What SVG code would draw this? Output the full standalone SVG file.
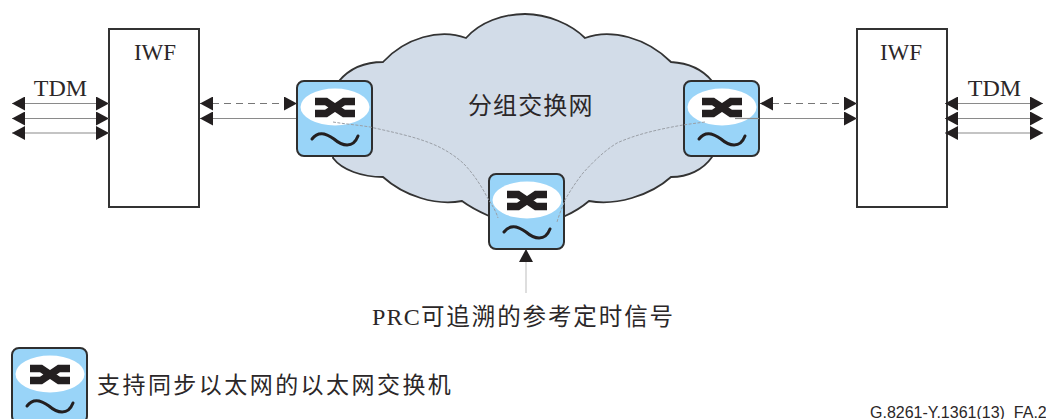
<svg xmlns="http://www.w3.org/2000/svg" width="1046" height="419" viewBox="0 0 1046 419">
<style>
text{fill:#2b2728}
.s{font-family:"Liberation Serif","Noto Sans CJK SC",serif}
.c{font-family:"Noto Sans CJK SC","Liberation Serif",serif;font-weight:400}
.box{fill:#fff;stroke:#333;stroke-width:2}
.ln{fill:none;stroke:#8a8a8a;stroke-width:1.2}
.da{fill:none;stroke:#777;stroke-width:1.2;stroke-dasharray:7 5}
.dot{fill:none;stroke:#9a9fa6;stroke-width:1;stroke-dasharray:3 1.5}
.h{fill:#231f20}
</style>
<defs>
<marker id="ah" markerUnits="userSpaceOnUse" markerWidth="13" markerHeight="14" refX="13" refY="7" orient="auto-start-reverse"><path class="h" d="M0,0L13,7L0,14Z"/></marker>
<g id="sw">
<rect x="0" y="0" width="75" height="75" rx="7" fill="#99d4f8" stroke="#2f2f2f" stroke-width="2"/>
<ellipse cx="38" cy="26" rx="34.500" ry="18.500" fill="#fff"/>
<path d="M18,20.500H29L47,32.500H58M18,32.500H29L47,20.500H58" fill="none" stroke="#231f20" stroke-width="7.500"/>
<path d="M15,58C21,50 29,52 37,58C45,65 56,68 61,55" fill="none" stroke="#231f20" stroke-width="3" stroke-linecap="round"/>
</g>
</defs>
<g id="cloud">
<path d="M339,81C350,68 366,62 383,62C405,38 440,28 466,38C480,22 503,14 525,14C547,14 571,24 585,38C611,28 647,38 671,62C688,63 703,70 712,81L712,157C703,170 688,177 671,177C650,196 615,206 589,201C582,207 574,212 565,216L489,216C480,212 470,207 462,201C436,206 404,196 383,177C362,177 342,170 333,158Z" fill="#d2dce8" stroke="#333" stroke-width="1.800"/>
<text class="c" x="468" y="114" font-size="24" letter-spacing="1.100">分组交换网</text>
</g>
<g id="iwf-left"><rect class="box" x="109" y="29" width="90" height="178"/><text class="s" x="155" y="60" font-size="23" text-anchor="middle">IWF</text></g>
<g id="iwf-right"><rect class="box" x="857" y="29" width="90" height="178"/><text class="s" x="901" y="60" font-size="23" text-anchor="middle">IWF</text></g>
<g id="connectors">
<path class="ln" d="M12,103.500H109" marker-start="url(#ah)" marker-end="url(#ah)"/>
<path class="ln" d="M12,118.500H109" marker-start="url(#ah)" marker-end="url(#ah)"/>
<path class="ln" d="M12,133H109" marker-start="url(#ah)" marker-end="url(#ah)"/>
<path class="ln" d="M945,103.500H1043" marker-start="url(#ah)" marker-end="url(#ah)"/>
<path class="ln" d="M945,118.500H1043" marker-start="url(#ah)" marker-end="url(#ah)"/>
<path class="ln" d="M945,133H1043" marker-start="url(#ah)" marker-end="url(#ah)"/>
<path class="da" d="M200,103.500H297" marker-start="url(#ah)" marker-end="url(#ah)"/>
<path class="ln" d="M200,118.500H297" marker-start="url(#ah)"/>
<path class="da" d="M760,103.500H857" marker-start="url(#ah)" marker-end="url(#ah)"/>
<path class="ln" d="M759,118.500H857" marker-end="url(#ah)"/>
<path d="M526,293V249" fill="none" stroke="#c8c8c8" stroke-width="1.200" marker-end="url(#ah)"/>
</g>
<g id="switch-left"><use href="#sw" x="297" y="81"/></g>
<g id="switch-right"><use href="#sw" x="684" y="81"/></g>
<g id="switch-center"><use href="#sw" x="489" y="174"/></g>
<g id="sync-links">
<path class="dot" d="M333,122C345,124 358,125 370,127C392,132 412,136 430,143C443,148 454,155 463,163C472,172 481,185 487,197C492,205 496,211 498,218"/>
<path class="dot" d="M705,122C697,123 690,124 683,125C660,129 637,134 617,143C604,151 593,162 583,173C576,182 570,191 565,200C562,208 559,215 557,222"/>
<path class="ln" d="M759,118.500H735" stroke-width="1"/>
</g>
<g id="prc-label"><text class="s" x="372" y="325" font-size="24" letter-spacing="1.200">PRC<tspan class="c" font-size="23.500" letter-spacing="1.900">可追溯的参考定时信号</tspan></text></g>
<g id="legend"><use href="#sw" x="12" y="348"/><text class="c" x="97" y="393" font-size="23" letter-spacing="2.450">支持同步以太网的以太网交换机</text></g>
<g id="tdm-labels"><text class="s" x="60.500" y="96" font-size="24" text-anchor="middle">TDM</text><text class="s" x="994.500" y="96" font-size="24" text-anchor="middle">TDM</text></g>
<text id="ref" x="870" y="418" font-family="Liberation Sans,sans-serif" font-size="16" fill="#231f20">G.8261-Y.1361(13)_FA.2</text>
</svg>
